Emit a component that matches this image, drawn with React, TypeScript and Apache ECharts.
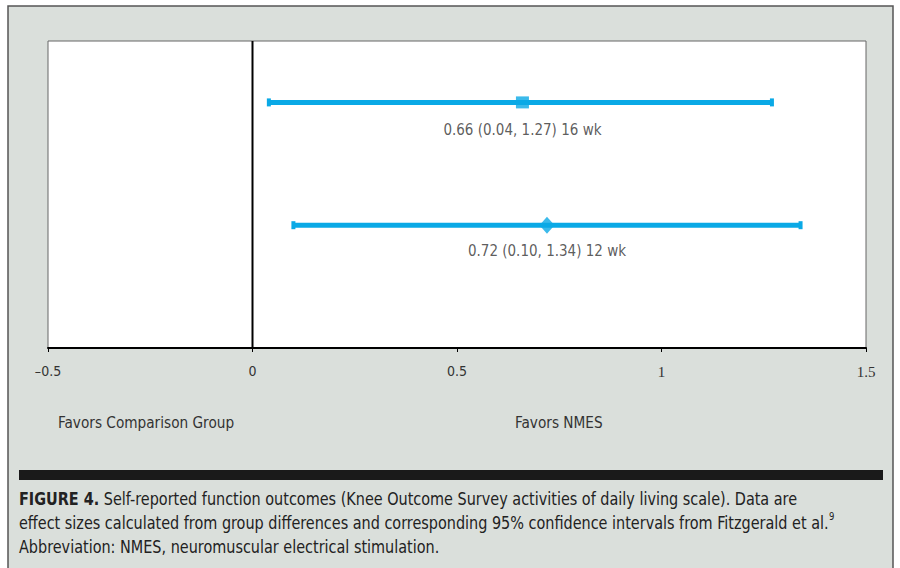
import React, { useEffect, useRef } from "react";
import * as echarts from "echarts";

const studies = ["16 wk", "12 wk"];
const effects = [0.66, 0.72];
const lowers = [0.04, 0.1];
const uppers = [1.27, 1.34];
const rowPos = [4, 2];
const markers = ["rect", "diamond"];
const markerSizes: any[] = [[13, 12], [15, 17]];
const tickLabels = ["-0.5", "0", "0.5", "1", "1.5"];

const FONT = "DejaVu Sans Condensed";
const SERIF = "Liberation Serif";
const BLUE = "#0aa9e6";
const BG = "#dadfdb";

const tickText = (v: number) => {
  const idx = Math.round((v + 0.5) / 0.5);
  const t = tickLabels[idx] ?? String(v);
  return t.replace("-", "\u2013");
};

export default function App() {
  const ref = useRef<HTMLDivElement>(null);
  useEffect(() => {
    if (!ref.current) return;
    const chart = echarts.init(ref.current, undefined, { renderer: "svg" });
    const series: any[] = [];
    series.push({
      type: "line",
      data: [[0, 0], [0, 5]],
      symbol: "none",
      lineStyle: { color: "#000", width: 2 },
      z: 3,
    });
    studies.forEach((s, i) => {
      series.push({
        type: "line",
        data: [[lowers[i], rowPos[i]], [uppers[i], rowPos[i]]],
        symbol: "rect",
        symbolSize: [4, 8],
        showSymbol: true,
        itemStyle: { color: BLUE },
        lineStyle: { color: BLUE, width: 5 },
        z: 4,
      });
      series.push({
        type: "scatter",
        data: [[effects[i], rowPos[i]]],
        symbol: markers[i],
        symbolSize: markerSizes[i],
        itemStyle: { color: BLUE },
        z: 5,
        label: {
          show: true,
          position: "inside",
          offset: [0, i === 0 ? 28 : 26],
          formatter: () =>
            `${effects[i].toFixed(2)} (${lowers[i].toFixed(2)}, ${uppers[i].toFixed(2)}) ${s}`,
          color: "#333",
          fontSize: 15,
          fontFamily: FONT,
        },
      });
    });

    const baseAxis = {
      type: "value",
      min: -0.5,
      max: 1.5,
      interval: 0.5,
      position: "bottom",
      splitLine: { show: false },
    };

    chart.setOption({
      animation: false,
      backgroundColor: "#fff",
      textStyle: { fontFamily: FONT },
      grid: { left: 48, top: 41, width: 818, height: 307, show: false },
      xAxis: [
        {
          ...baseAxis,
          axisLine: { show: true, onZero: false, lineStyle: { color: "#000", width: 2 } },
          axisTick: { show: true, inside: false, length: 4, lineStyle: { color: "#000", width: 1 } },
          axisLabel: {
            margin: 16,
            fontSize: 14,
            color: "#333",
            fontFamily: FONT,
            fontWeight: "normal",
            formatter: (v: number) => (v >= 1 ? "" : tickText(v)),
          },
        },
        {
          ...baseAxis,
          axisLine: { show: false, onZero: false },
          axisTick: { show: false },
          axisLabel: {
            margin: 16,
            fontSize: 15,
            color: "#333",
            fontFamily: SERIF,
            formatter: (v: number) => (v >= 1 ? tickText(v) : ""),
          },
        },
      ],
      yAxis: {
        type: "value",
        min: 0,
        max: 5,
        show: false,
      },
      graphic: [
        {
          type: "rect",
          z: -10,
          shape: { x: 8, y: 6, width: 885, height: 620 },
          style: { fill: BG, stroke: "#555", lineWidth: 1.5 },
        },
        {
          type: "rect",
          z: -9,
          shape: { x: 48, y: 41, width: 818, height: 307 },
          style: { fill: "#fff", stroke: "#666", lineWidth: 1 },
        },
        {
          type: "text",
          x: 58,
          y: 415,
          scaleX: 0.95,
          style: { text: "Favors Comparison Group", font: `16px ${FONT}`, fill: "#333" },
        },
        {
          type: "text",
          x: 515,
          y: 415,
          scaleX: 0.95,
          style: { text: "Favors NMES", font: `16px ${FONT}`, fill: "#333" },
        },
        {
          type: "rect",
          shape: { x: 19, y: 470, width: 864, height: 10 },
          style: { fill: "#1a1a1a" },
        },
        {
          type: "text",
          x: 19,
          y: 487,
          scaleX: 0.943,
          style: {
            text:
              "{b|FIGURE 4.}{n| Self-reported function outcomes (Knee Outcome Survey activities of daily living scale). Data are}\n" +
              "{n|effect sizes calculated from group differences and corresponding 95% confidence intervals from Fitzgerald et al.}{sup|9}\n" +
              "{n|Abbreviation: NMES, neuromuscular electrical stimulation.}",
            rich: {
              b: { fontFamily: FONT, fontWeight: "bold", fontSize: 17, fill: "#222", lineHeight: 24 },
              n: { fontFamily: FONT, fontSize: 17, fill: "#222", lineHeight: 24 },
              sup: { fontFamily: FONT, fontSize: 10, fill: "#222", lineHeight: 24, verticalAlign: "top", padding: [0, 0, 8, 0] },
            },
          },
        },
      ],
      series,
    });
    return () => chart.dispose();
  }, []);
  return (
    <div
      ref={ref}
      style={{ position: "fixed", left: 0, top: 0, width: 900, height: 568 }}
    />
  );
}
